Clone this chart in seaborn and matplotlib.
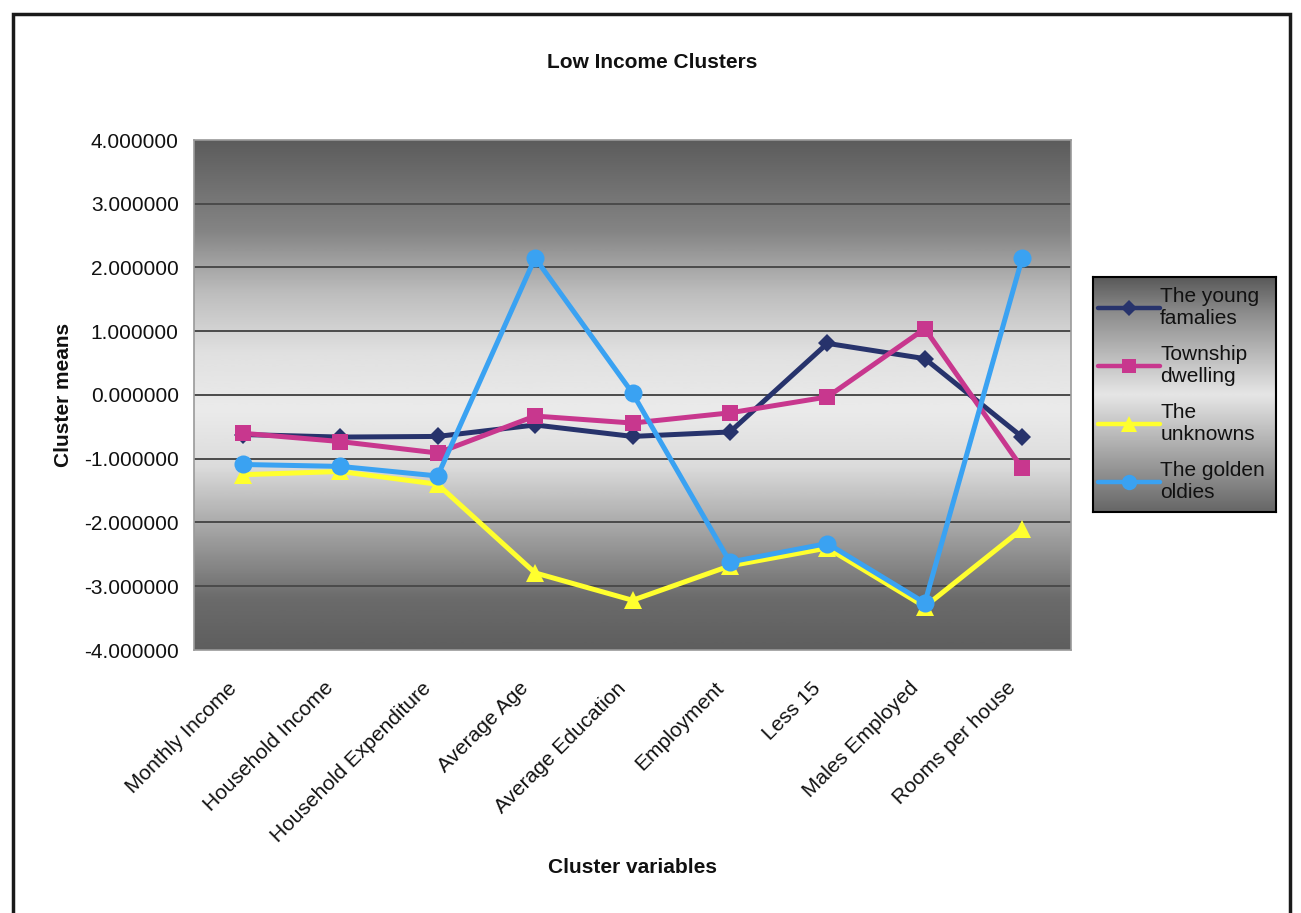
import numpy as np
import pandas as pd
import matplotlib
matplotlib.use("Agg")
import matplotlib.pyplot as plt
import matplotlib.transforms as mtransforms
import seaborn as sns
from matplotlib.patches import Rectangle
from matplotlib.lines import Line2D

categories = ["Monthly Income", "Household Income", "Household Expenditure",
              "Average Age", "Average Education", "Employment", "Less 15",
              "Males Employed", "Rooms per house"]
young_families = [-0.62, -0.66, -0.65, -0.47, -0.65, -0.58, 0.81, 0.57, -0.66]
township_dwelling = [-0.60, -0.73, -0.91, -0.33, -0.44, -0.28, -0.03, 1.04, -1.15]
the_unknowns = [-1.25, -1.20, -1.40, -2.79, -3.22, -2.68, -2.40, -3.32, -2.10]
golden_oldies = [-1.09, -1.12, -1.27, 2.15, 0.03, -2.62, -2.33, -3.26, 2.15]
series_names = ["The young\nfamalies", "Township\ndwelling", "The\nunknowns", "The golden\noldies"]
y_ticks = [4, 3, 2, 1, 0, -1, -2, -3, -4]

colors = ["#27336c", "#c8378e", "#ffff2e", "#3aa2f2"]
markers = ["D", "s", "^", "o"]
msizes = [9, 12, 13, 13]
FS = 15

sns.set_theme(style="white")
plt.rcParams['font.family'] = ['Liberation Sans', 'DejaVu Sans']

fig = plt.figure(figsize=(13.01, 9.13), dpi=100)
W, H = 1301, 913
ax = fig.add_axes([194 / W, 1 - 650 / H, (1071 - 194) / W, (650 - 140) / H])

def grad_vals(n=400):
    t = np.linspace(0, 1, n)  # 0 = bottom, 1 = top
    pts_t = [0.0, 0.10, 0.22, 0.36, 0.47, 0.58, 0.70, 0.82, 1.0]
    pts_v = [0.37, 0.42, 0.62, 0.86, 0.92, 0.88, 0.74, 0.52, 0.36]
    return np.interp(t, pts_t, pts_v)

g = grad_vals()[::-1].reshape(-1, 1)
ax.imshow(g, cmap="gray", vmin=0, vmax=1, aspect="auto",
          extent=[0, 1, 0, 1], transform=ax.transAxes, zorder=0, interpolation="bicubic")

df = pd.DataFrame({
    "x": np.tile(np.arange(len(categories)), 4),
    "y": young_families + township_dwelling + the_unknowns + golden_oldies,
    "series": np.repeat(series_names, len(categories)),
})

for i, name in enumerate(series_names):
    sub = df[df["series"] == name]
    sns.lineplot(data=sub, x="x", y="y", color=colors[i], marker=markers[i],
                 markersize=msizes[i], markeredgewidth=0, linewidth=3.6,
                 ax=ax, zorder=3 + i, legend=False, sort=False)

ax.set_xlim(-0.5, len(categories) - 0.5)
ax.set_ylim(-4, 4)
ax.set_yticks(y_ticks)
ax.set_yticklabels([f"{v:.6f}" for v in y_ticks], fontsize=FS, color="#111111")
ax.set_xticks(range(len(categories)))
ax.set_xticklabels(categories, rotation=45, ha="right", rotation_mode="anchor",
                   fontsize=FS, color="#111111")
ax.tick_params(axis="y", length=0, pad=11)
ax.tick_params(axis="x", length=0, pad=14)
offset = mtransforms.ScaledTranslation(-16 / 100, -9 / 100, fig.dpi_scale_trans)
for lbl in ax.get_xticklabels():
    lbl.set_transform(lbl.get_transform() + offset)
for yv in y_ticks[1:-1]:
    ax.axhline(yv, color="#4a4a4a", lw=1.4, zorder=1)
for s in ax.spines.values():
    s.set_color("#9a9a9a")
    s.set_linewidth(1.2)
ax.set_xlabel("Cluster variables", fontsize=FS, fontweight="bold", color="#111111")
ax.set_ylabel("Cluster means", fontsize=FS, fontweight="bold", color="#111111")
ax.xaxis.set_label_coords((633 - 194) / 877, -(858 - 650) / 510)
ax.yaxis.set_label_coords((73 - 194) / 877, 0.5)
ax.grid(False)

fig.text(652 / W, 1 - 63 / H, "Low Income Clusters", ha="center", va="center",
         fontsize=FS, fontweight="bold", color="#111111")

# legend box with gradient
lax = fig.add_axes([1093 / W, 1 - 512 / H, (1276 - 1093) / W, (512 - 277) / H])
lg = np.interp(np.linspace(0, 1, 300), [0, 0.15, 0.5, 0.8, 1.0], [0.35, 0.55, 0.9, 0.6, 0.4])
lax.imshow(lg.reshape(-1, 1), cmap="gray", vmin=0, vmax=1, aspect="auto",
           extent=[0, 1, 0, 1], transform=lax.transAxes, interpolation="bicubic")
lax.set_xticks([]); lax.set_yticks([])
for s in lax.spines.values():
    s.set_color("black"); s.set_linewidth(1.5)
handles = [Line2D([0], [0], color=colors[i], marker=markers[i], markersize=msizes[i] * 0.85,
                  markeredgewidth=0, lw=3.2) for i in range(4)]
leg = lax.legend(handles, series_names, loc="center left", frameon=False, fontsize=FS,
                 handlelength=3.0, handletextpad=0.0, borderaxespad=0.0, labelspacing=0.82,
                 bbox_to_anchor=(-0.02, 0.5))
for t in leg.get_texts():
    t.set_color("#111111")

# outer frame
fig.patches.append(Rectangle((13 / W, -0.05), (1290 - 13) / W, 1 - 14 / H + 0.05,
                             transform=fig.transFigure, fill=False, ec="#1a1a1a", lw=2.5))

fig.savefig("out.png", dpi=100)
